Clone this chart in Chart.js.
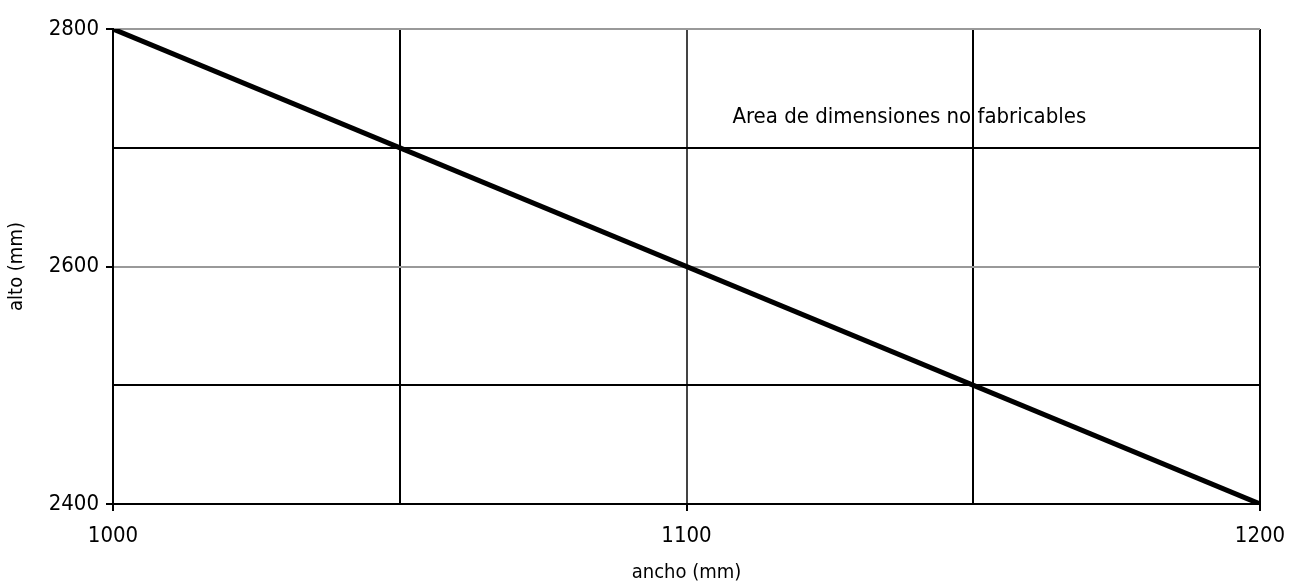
<!DOCTYPE html>
<html>
<head>
<meta charset="utf-8">
<script src="https://cdn.jsdelivr.net/npm/chart.js@4"></script>
<style>
  html, body { margin: 0; padding: 0; background: #fff; }
  #wrap { width: 1290px; height: 585px; }
</style>
</head>
<body>
<div id="wrap"><canvas id="chart" width="1290" height="585"></canvas></div>
<script>
// Boundary line: ancho (mm) vs alto (mm)
const anchoValues = [1000, 1200];
const altoValues  = [2800, 2400];

const xTickLabels = [1000, 1100, 1200];
const yTickLabels = [2400, 2600, 2800];

const areaLabel = 'Area de dimensiones no fabricables';
const areaLabelPos = { x: 1108, y: 2726 };

const FONT = "'DejaVu Sans Condensed', 'Liberation Sans', sans-serif";
Chart.defaults.font.family = FONT;
Chart.defaults.font.size   = 22;
Chart.defaults.color       = '#000';

const areaLabelPlugin = {
  id: 'areaLabel',
  afterDatasetsDraw(chart) {
    const { ctx, scales: { x, y } } = chart;
    ctx.save();
    ctx.font = `22px ${FONT}`;
    ctx.fillStyle = '#000';
    ctx.textAlign = 'left';
    ctx.textBaseline = 'middle';
    ctx.fillText(areaLabel, x.getPixelForValue(areaLabelPos.x), y.getPixelForValue(areaLabelPos.y));
    ctx.restore();
  },
};

new Chart(document.getElementById('chart'), {
  type: 'line',
  data: {
    datasets: [{
      data: anchoValues.map((v, i) => ({ x: v, y: altoValues[i] })),
      borderColor: '#000',
      borderWidth: 5,
      pointRadius: 0,
      tension: 0,
    }],
  },
  plugins: [areaLabelPlugin],
  options: {
    responsive: false,
    animation: false,
    layout: { padding: { top: 29, right: 30, left: 0, bottom: 0 } },
    plugins: { legend: { display: false }, tooltip: { enabled: false } },
    scales: {
      x: {
        type: 'linear',
        min: 1000,
        max: 1200,
        afterFit(scale) {
          scale.height = 81;
          scale.paddingLeft = 0;
          scale.paddingRight = 0;
        },
        afterBuildTicks(scale) {
          scale.ticks = [1000, 1050, 1100, 1150, 1200].map(v => ({ value: v }));
        },
        ticks: {
          padding: 12,
          maxRotation: 0,
          callback: v => xTickLabels.includes(v) ? String(v) : '',
        },
        grid: {
          lineWidth: 2,
          tickLength: 7,
          color: ctx => ctx.tick && ctx.tick.value === 1100 ? '#444' : '#000',
          tickColor: ctx => ctx.tick && xTickLabels.includes(ctx.tick.value) ? '#000' : 'rgba(0,0,0,0)',
        },
        border: { color: '#000', width: 2 },
        title: {
          display: true,
          text: 'ancho (mm)',
          font: { size: 20 },
          padding: { top: 0, bottom: 0 },
        },
      },
      y: {
        type: 'linear',
        min: 2400,
        max: 2800,
        afterFit(scale) {
          scale.width = 113;
          scale.paddingTop = 0;
          scale.paddingBottom = 0;
        },
        afterBuildTicks(scale) {
          scale.ticks = [2400, 2500, 2600, 2700, 2800].map(v => ({ value: v }));
        },
        ticks: {
          padding: 7,
          callback: v => yTickLabels.includes(v) ? String(v) : '',
        },
        grid: {
          lineWidth: 2,
          tickLength: 7,
          color: ctx => ctx.tick && yTickLabels.includes(ctx.tick.value) ? '#999' : '#000',
          tickColor: ctx => ctx.tick && yTickLabels.includes(ctx.tick.value) ? '#000' : 'rgba(0,0,0,0)',
        },
        border: { color: '#000', width: 2 },
        title: {
          display: true,
          text: 'alto (mm)',
          font: { size: 20 },
          padding: { top: 5, bottom: 0 },
        },
      },
    },
  },
});
</script>
</body>
</html>
